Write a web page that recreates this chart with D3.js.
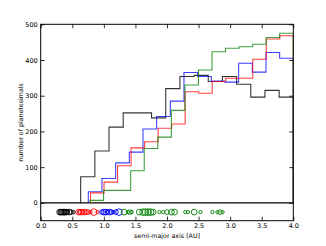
<!DOCTYPE html>
<html>
<head>
<meta charset="utf-8">
<script src="https://cdn.jsdelivr.net/npm/d3@7/dist/d3.min.js"></script>
<style>
  html, body { margin: 0; padding: 0; background: #fff; }
  svg { display: block; font-family: "DejaVu Sans", sans-serif; }
</style>
</head>
<body>
<svg id="chart" width="326" height="246"></svg>
<script>
// ---------- data ----------
const xTicks = [0.0, 0.5, 1.0, 1.5, 2.0, 2.5, 3.0, 3.5, 4.0];
const yTicks = [0, 100, 200, 300, 400, 500];
const xDomain = [0, 4];
const yDomain = [-50, 500];
const binEnd = 4.0;

// histogram series (15 bins each, from binStart to binEnd)
const seriesNames = ["black", "blue", "red", "green"];
const binStarts = [0.633, 0.754, 0.789, 0.781];
const blackCounts = [73, 145, 212, 252, 252, 238, 320, 354, 357, 340, 354, 332, 296, 315, 296];
const blueCounts  = [31, 68, 112, 142, 207, 242, 285, 365, 354, 341, 338, 391, 366, 421, 405];
const redCounts   = [28, 58, 104, 154, 171, 209, 221, 311, 307, 340, 349, 349, 402, 459, 468];
const greenCounts = [7, 35, 35, 90, 152, 184, 259, 330, 372, 423, 433, 437, 444, 463, 475];

// bodies shown as circles below the zero line (semi-major axis, relative mass)
const rowValue = -26;
const blackA = [0.30, 0.32, 0.34, 0.36, 0.38, 0.40, 0.42, 0.45, 0.48, 0.52];
const blackM = [3, 3, 3, 3, 3, 3, 2, 3, 2, 1];
const redA   = [0.60, 0.62, 0.64, 0.66, 0.69, 0.72, 0.75, 0.79, 0.84, 0.90];
const redM   = [3, 2, 3, 2, 3, 2, 2, 1, 4, 1];
const blueA  = [0.97, 1.00, 1.03, 1.06, 1.09, 1.12, 1.15, 1.19, 1.24];
const blueM  = [2, 3, 3, 2, 3, 2, 1, 2, 4];
const greenA = [1.32, 1.38, 1.41, 1.44, 1.56, 1.62, 1.66, 1.70, 1.74, 1.78, 1.88, 1.94, 2.00, 2.07, 2.12, 2.29, 2.33, 2.43, 2.53, 2.72, 2.80, 2.84, 2.88];
const greenM = [3, 1, 2, 1, 3, 4, 4, 4, 4, 3, 1, 1, 2, 3, 3, 1, 1, 3, 1, 1, 1, 2, 1];

// ---------- layout ----------
const svg = d3.select("#chart");
const L = 40.7, R = 293.3, T = 24.3, B = 220.7;
const x = d3.scaleLinear().domain(xDomain).range([L, R]);
const y = d3.scaleLinear().domain(yDomain).range([B, T]);
const rScale = d3.scaleSqrt().domain([0, 4]).range([0, 3.3]);

const colors = { black: "#000000", blue: "#0000ff", red: "#ff0000", green: "#008000" };
const countsBy = { black: blackCounts, blue: blueCounts, red: redCounts, green: greenCounts };

svg.append("defs").append("clipPath").attr("id", "clip")
  .append("rect").attr("x", L).attr("y", T).attr("width", R - L).attr("height", B - T);

const plot = svg.append("g").attr("clip-path", "url(#clip)");

// zero line
plot.append("line")
  .attr("x1", x(xDomain[0])).attr("x2", x(xDomain[1]))
  .attr("y1", y(0)).attr("y2", y(0))
  .attr("stroke", "#000").attr("stroke-width", 1.2);

// step histograms
seriesNames.forEach((name, i) => {
  const counts = countsBy[name];
  const n = counts.length;
  const start = binStarts[i];
  const w = (binEnd - start) / n;
  const edges = d3.range(n + 1).map(k => start + k * w);
  const pts = [[edges[0], 0]];
  counts.forEach((c, k) => { pts.push([edges[k], c]); pts.push([edges[k + 1], c]); });
  pts.push([edges[n], 0]);
  const line = d3.line().x(d => x(d[0])).y(d => y(d[1]));
  plot.append("path")
    .attr("d", line(pts))
    .attr("fill", "none")
    .attr("stroke", colors[name])
    .attr("stroke-opacity", name === "black" ? 0.8 : 0.75)
    .attr("stroke-width", 1.1);
});

// circles row
const rows = [
  { c: colors.black, a: blackA, m: blackM },
  { c: colors.red, a: redA, m: redM },
  { c: colors.blue, a: blueA, m: blueM },
  { c: colors.green, a: greenA, m: greenM }
];
rows.forEach(r => {
  plot.append("g").selectAll("circle")
    .data(r.a.map((a, i) => ({ a, m: r.m[i] })))
    .join("circle")
    .attr("cx", d => x(d.a))
    .attr("cy", y(rowValue))
    .attr("r", d => rScale(d.m))
    .attr("fill", "none")
    .attr("stroke", r.c)
    .attr("stroke-width", 0.9);
});

// frame
svg.append("rect")
  .attr("x", L).attr("y", T).attr("width", R - L).attr("height", B - T)
  .attr("fill", "none").attr("stroke", "#000").attr("stroke-width", 1);

// axes with inward ticks
const tickLen = 4;
const xAxisB = d3.axisBottom(x).tickValues(xTicks).tickFormat(d3.format(".1f"))
  .tickSizeInner(-tickLen).tickSizeOuter(0).tickPadding(3);
const gx = svg.append("g").attr("transform", `translate(0,${B})`).call(xAxisB);
const xAxisT = d3.axisTop(x).tickValues(xTicks).tickFormat("")
  .tickSizeInner(-tickLen).tickSizeOuter(0);
const gxt = svg.append("g").attr("transform", `translate(0,${T})`).call(xAxisT);
const yAxisL = d3.axisLeft(y).tickValues(yTicks).tickFormat(d3.format("d"))
  .tickSizeInner(-tickLen).tickSizeOuter(0).tickPadding(3);
const gy = svg.append("g").attr("transform", `translate(${L},0)`).call(yAxisL);
const yAxisR = d3.axisRight(y).tickValues(yTicks).tickFormat("")
  .tickSizeInner(-tickLen).tickSizeOuter(0);
const gyr = svg.append("g").attr("transform", `translate(${R},0)`).call(yAxisR);

[gx, gxt, gy, gyr].forEach(g => {
  g.select(".domain").remove();
  g.selectAll(".tick line").attr("stroke", "#000").attr("stroke-width", 0.8);
  g.selectAll(".tick text").attr("font-family", "DejaVu Sans, sans-serif")
    .attr("font-size", 6.5).attr("fill", "#000");
});

// axis labels
svg.append("text")
  .attr("x", (L + R) / 2).attr("y", 237.5)
  .attr("text-anchor", "middle")
  .attr("font-size", 6.3).attr("fill", "#000")
  .text("semi-major axis [AU]");
svg.append("text")
  .attr("transform", `translate(23,${(T + B) / 2}) rotate(-90)`)
  .attr("text-anchor", "middle")
  .attr("font-size", 6.3).attr("fill", "#000")
  .text("number of planetesimals");
</script>
</body>
</html>
